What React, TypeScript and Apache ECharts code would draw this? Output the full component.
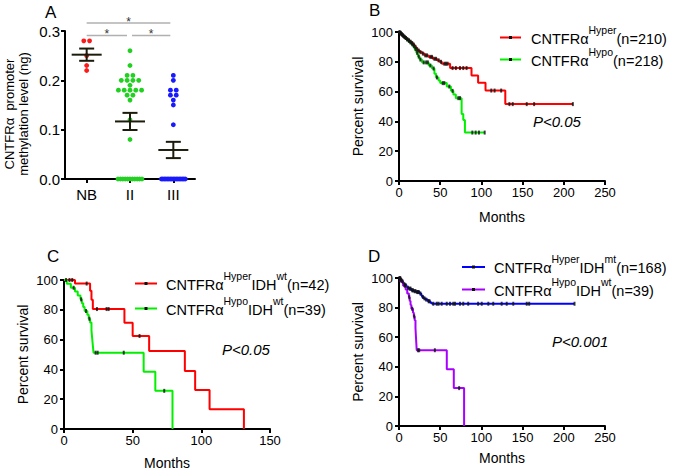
import React, { useEffect, useRef } from 'react';
import * as echarts from 'echarts';

const FONT = '"Liberation Sans", Arial, Helvetica, sans-serif';

// ---------- Panel A data ----------
const groupLabels = ['NB', 'II', 'III'];
const nbLevels = [0.28, 0.28, 0.25, 0.23, 0.22];
const gradeIILevels = [
  0.26, 0.23, 0.21, 0.21, 0.2, 0.2, 0.2, 0.2, 0.19, 0.18, 0.18, 0.18, 0.18, 0.18,
  0.17, 0.17, 0.16, 0.12, 0.08, 0, 0, 0, 0, 0, 0, 0, 0, 0, 0, 0,
];
const gradeIIILevels = [
  0.21, 0.2, 0.18, 0.18, 0.17, 0.17, 0.16, 0.15, 0.11, 0, 0, 0, 0, 0, 0, 0, 0, 0, 0, 0,
  0, 0, 0, 0, 0, 0,
];
const groupColors = ['#ff1a1a', '#22d022', '#1a1aff'];
const comparisonPairs = [[0, 2], [0, 1], [1, 2]];
const comparisonLabels = ['*', '*', '*'];
const comparisonHeights = [0.316, 0.291, 0.291];
const panelATitle = 'CNTFRα  promoter\nmethylation level (ng)';

// ---------- Panel B data ----------
const bHyperSteps = [
  [0, 100], [1, 99.5], [2, 99], [3, 98.5], [4, 98], [5, 97.3], [6, 96.6], [8, 96], [9, 95.2],
  [11, 94.5], [13, 93.5], [15, 92.6], [17, 91.5], [19, 90], [21, 88.5], [23, 87.5], [25, 86.5],
  [28, 85.5], [31, 84.3], [36, 83.3], [41, 82], [46, 81], [49, 80], [52, 78.7], [62, 75.8],
  [88, 70.8], [96, 66], [105, 60.7], [129, 51.6], [211, 51.6],
];
const bHyperCensored = [
  1.5, 2.5, 3.5, 4.5, 5.5, 7, 8.5, 10, 12, 14, 16, 18, 20, 22, 24, 26, 29, 32, 34, 38, 40, 43,
  45, 48, 51, 55, 57, 59, 65, 69, 74, 78, 82, 112, 116, 124, 134, 138, 155, 164, 211,
];
const bHypoSteps = [
  [0, 100], [1, 99.5], [2, 99], [3, 98.3], [4, 97.6], [6, 96.8], [7, 96], [9, 95], [11, 94],
  [13, 93], [15, 91.8], [17, 90.5], [19, 88.5], [21, 86], [23, 83.5], [25, 81.5], [28, 79.6],
  [36, 77.5], [40, 75.5], [43, 72], [45, 69.5], [48, 67.5], [50, 65.7], [58, 63.4], [63, 60.5],
  [66, 58], [69, 55.6], [76, 45], [78, 41], [80, 32.5], [104, 32.5],
];
const bHypoCensored = [
  0.5, 1.5, 2.5, 3.5, 5, 6.5, 8, 10, 12, 14, 16, 18, 20, 22, 24, 26, 30, 33, 35, 38, 42, 46,
  53, 55, 61, 65, 72, 74, 89, 93, 97, 104,
];

// ---------- Panel C data ----------
const cHyperWtSteps = [
  [0, 100], [8, 97.6], [19, 92.8], [20, 86.8], [21, 80.5], [44, 71.3], [50, 62.4], [62, 52.3],
  [88, 39], [95.5, 26.2], [106, 13.2], [131, 0],
];
const cHyperWtCensored = [4, 6, 16.5, 24, 31, 32.5, 55];
const hypoWtSteps = [
  [0, 100], [2, 97.4], [5, 94.8], [8, 92.2], [10, 89.6], [12, 87], [13, 84.4], [14, 81.8],
  [15, 79.2], [17, 76.6], [18, 74], [19, 71.4], [20, 66.2], [20.5, 61], [21, 56], [21.5, 51.2],
  [58, 38.4], [66.5, 25.6], [79, 0],
];
const hypoWtCensored = [1.5, 7, 12.5, 16, 18.5, 23, 24.5, 43.5, 73];

// ---------- Panel D data ----------
const dHyperMtSteps = [
  [0, 100], [1, 99.4], [2, 98.8], [3, 98.2], [4, 97.6], [5, 96.4], [6, 95.8], [7, 95.2], [9, 94],
  [10, 93.4], [12, 92.8], [15, 91.7], [18, 91.1], [21, 90.5], [25, 89.5], [27, 88.3], [28, 87.2],
  [30, 86.2], [32, 85.4], [35, 84.3], [38, 83.3], [40, 82.6], [213, 82.6],
];
const dHyperMtCensored = [
  0.5, 1.5, 2.5, 3.5, 4.5, 6.5, 8, 11, 13, 14, 16, 17, 19, 20, 22, 23, 24, 26, 29, 31, 33, 36,
  37, 41.6, 45.8, 48, 51.8, 57.9, 61.9, 65.9, 68, 74, 78, 84, 96, 100.4, 108.4, 114.4, 124.6,
  130.7, 138.7, 155, 158, 213,
];

const pValueTexts = ['P<0.05', 'P<0.05', 'P<0.001'];
const legendB = ['{m|CNTFRα}{s|Hyper}{m|(n=210)}', '{m|CNTFRα}{s|Hypo}{m|(n=218)}'];
const legendC = ['{m|CNTFRα}{s|Hyper}{m|IDH}{s|wt}{m|(n=42)}', '{m|CNTFRα}{s|Hypo}{m|IDH}{s|wt}{m|(n=39)}'];
const legendD = ['{m|CNTFRα}{s|Hyper}{m|IDH}{s|mt}{m|(n=168)}', '{m|CNTFRα}{s|Hypo}{m|IDH}{s|wt}{m|(n=39)}'];

const RED = '#ff0000';
const GREEN = '#00f000';
const BLUE = '#0000ff';
const PURPLE = '#a800ff';

function survivalAt(steps: number[][], t: number) {
  let s = steps[0][1];
  for (const [tt, v] of steps) {
    if (tt <= t) s = v;
    else break;
  }
  return s;
}
function censorData(steps: number[][], times: number[]) {
  return times.map((t) => [t, survivalAt(steps, t)]);
}
function swarm(values: number[], cat: number) {
  const counts: Record<string, number> = {};
  values.forEach((v) => (counts[v] = (counts[v] || 0) + 1));
  const seen: Record<string, number> = {};
  return values.map((v) => {
    const n = counts[v];
    const i = seen[v] || 0;
    seen[v] = i + 1;
    const s = n > 1 ? Math.min(5.8, 24 / (n - 1)) : 0;
    return [cat, v, (i - (n - 1) / 2) * s];
  });
}
function meanSem(values: number[]) {
  const n = values.length;
  const m = values.reduce((a, b) => a + b, 0) / n;
  const v = values.reduce((a, b) => a + (b - m) * (b - m), 0) / (n - 1);
  return [m, Math.sqrt(v) / Math.sqrt(n)];
}

const axisBase = (fontSize: number) => ({
  axisLine: { show: true, onZero: false, lineStyle: { color: '#000', width: 2 } },
  axisTick: { show: true, length: 4, lineStyle: { color: '#000', width: 2 } },
  axisLabel: { color: '#000', fontSize, fontFamily: FONT },
  splitLine: { show: false },
  nameTextStyle: { color: '#000', fontSize: 14, fontFamily: FONT },
});

export default function App() {
  const ref = useRef<HTMLDivElement>(null);
  useEffect(() => {
    if (!ref.current) return;
    const chart = echarts.init(ref.current, undefined, { renderer: 'svg' });
    const groups = [nbLevels, gradeIILevels, gradeIIILevels];
    const stats = groups.map((g, i) => {
      const [m, s] = meanSem(g);
      return [i, m, s];
    });

    const dotSeries = groups.map((g, gi) => ({
      type: 'custom',
      xAxisIndex: 0,
      yAxisIndex: 0,
      clip: false,
      encode: { x: 0, y: 1 },
      data: swarm(g, gi),
      renderItem: (params: any, api: any) => {
        const c = api.coord([api.value(0), api.value(1)]);
        return {
          type: 'circle',
          shape: { cx: c[0] + api.value(2), cy: c[1], r: 2.4 },
          style: { fill: groupColors[gi] },
        };
      },
      z: 2,
    }));

    const meanSeries = {
      type: 'custom',
      xAxisIndex: 0,
      yAxisIndex: 0,
      clip: false,
      encode: { x: 0, y: 1 },
      data: stats,
      renderItem: (params: any, api: any) => {
        const c = api.coord([api.value(0), api.value(1)]);
        const top = api.coord([api.value(0), api.value(1) + api.value(2)])[1];
        const bot = api.coord([api.value(0), api.value(1) - api.value(2)])[1];
        const st = { stroke: '#1c1c0c', lineWidth: 2 };
        return {
          type: 'group',
          children: [
            { type: 'line', shape: { x1: c[0] - 15, y1: c[1], x2: c[0] + 15, y2: c[1] }, style: st },
            { type: 'line', shape: { x1: c[0] - 7.5, y1: top, x2: c[0] + 7.5, y2: top }, style: st },
            { type: 'line', shape: { x1: c[0] - 7.5, y1: bot, x2: c[0] + 7.5, y2: bot }, style: st },
            { type: 'line', shape: { x1: c[0], y1: top, x2: c[0], y2: bot }, style: st },
          ],
        };
      },
      z: 3,
    };

    const bracketSeries = {
      type: 'custom',
      xAxisIndex: 0,
      yAxisIndex: 0,
      clip: false,
      encode: { x: 0, y: 2 },
      data: comparisonPairs.map((p, i) => [p[0], p[1], comparisonHeights[i]]),
      renderItem: (params: any, api: any) => {
        const i = params.dataIndex;
        const a = api.coord([api.value(0), api.value(2)]);
        const b = api.coord([api.value(1), api.value(2)]);
        const x1 = a[0] + (api.value(0) === 0 ? 0 : 2);
        const x2 = b[0] - 3;
        return {
          type: 'group',
          children: [
            { type: 'line', shape: { x1, y1: a[1], x2, y2: a[1] }, style: { stroke: '#b0b0b0', lineWidth: 1.5 } },
            {
              type: 'text',
              style: {
                text: comparisonLabels[i],
                x: (x1 + x2) / 2,
                y: a[1] - 1,
                fill: '#333',
                font: `12px ${FONT}`,
                align: 'center',
                verticalAlign: 'middle',
              },
            },
          ],
        };
      },
      z: 1,
    };

    const kmLine = (steps: number[][], color: string, idx: number) => ({
      type: 'line',
      xAxisIndex: idx,
      yAxisIndex: idx,
      step: 'end',
      symbol: 'none',
      data: steps,
      lineStyle: { color, width: 2 },
      itemStyle: { color },
      z: 2,
    });
    const kmCensor = (steps: number[][], times: number[], idx: number) => ({
      type: 'scatter',
      xAxisIndex: idx,
      yAxisIndex: idx,
      symbol: 'rect',
      symbolSize: [2, 4],
      data: censorData(steps, times),
      itemStyle: { color: '#111' },
      z: 3,
    });

    const rich = {
      m: { fontSize: 14.5, fontFamily: FONT, fill: '#000', lineHeight: 22, verticalAlign: 'bottom' },
      s: { fontSize: 10.5, fontFamily: FONT, fill: '#000', lineHeight: 12, verticalAlign: 'top' },
    };
    const legendItem = (x1: number, x2: number, y: number, color: string, tx: number, ty: number, text: string) => [
      { type: 'line', shape: { x1, y1: y, x2, y2: y }, style: { stroke: color, lineWidth: 2 } },
      { type: 'rect', shape: { x: (x1 + x2) / 2 - 1.5, y: y - 1.5, width: 3, height: 3 }, style: { fill: '#111' } },
      { type: 'text', x: tx, y: ty, style: { text, rich, fill: '#000', font: `14.5px ${FONT}`, verticalAlign: 'middle' } },
    ];
    const letter = (t: string, x: number, y: number) => ({
      type: 'text',
      x,
      y,
      style: { text: t, font: `17px ${FONT}`, fill: '#000' },
    });
    const pText = (t: string, x: number, y: number) => ({
      type: 'text',
      x,
      y,
      style: { text: t, font: `italic 15px ${FONT}`, fill: '#000', verticalAlign: 'middle' },
    });

    const kmY = (idx: number) => ({
      type: 'value',
      gridIndex: idx,
      min: 0,
      max: 100,
      interval: 20,
      name: 'Percent survival',
      nameLocation: 'middle',
      nameGap: 34,
      ...axisBase(13),
      axisLabel: { color: '#000', fontSize: 13, fontFamily: FONT, margin: 6 },
    });
    const kmX = (idx: number, max: number, gap: number) => ({
      type: 'value',
      gridIndex: idx,
      min: 0,
      max,
      interval: 50,
      name: 'Months',
      nameLocation: 'middle',
      nameGap: gap,
      ...axisBase(13),
      axisLabel: { color: '#000', fontSize: 13, fontFamily: FONT, margin: 5 },
    });

    chart.setOption({
      animation: false,
      backgroundColor: '#fff',
      grid: [
        { left: 65, top: 31, width: 130, height: 148 },
        { left: 399, top: 32, width: 206, height: 149 },
        { left: 64, top: 280, width: 206, height: 149 },
        { left: 399, top: 278, width: 206, height: 148 },
      ],
      xAxis: [
        {
          type: 'category',
          gridIndex: 0,
          data: groupLabels,
          boundaryGap: true,
          ...axisBase(15),
          axisTick: { show: true, alignWithLabel: true, interval: 0, length: 4, lineStyle: { color: '#000', width: 2 } },
          axisLabel: { color: '#000', fontSize: 15, fontFamily: FONT, margin: 8 },
        },
        kmX(1, 250, 29),
        kmX(2, 150, 27),
        kmX(3, 250, 25),
      ],
      yAxis: [
        {
          type: 'value',
          gridIndex: 0,
          min: 0,
          max: 0.3,
          interval: 0.1,
          ...axisBase(15),
          axisLabel: {
            color: '#000',
            fontSize: 15,
            fontFamily: FONT,
            margin: 5,
            formatter: (v: number) => v.toFixed(1),
          },
        },
        kmY(1),
        kmY(2),
        kmY(3),
      ],
      series: [
        ...dotSeries,
        meanSeries,
        bracketSeries,
        kmLine(bHyperSteps, RED, 1),
        kmLine(bHypoSteps, GREEN, 1),
        kmCensor(bHyperSteps, bHyperCensored, 1),
        kmCensor(bHypoSteps, bHypoCensored, 1),
        kmLine(cHyperWtSteps, RED, 2),
        kmLine(hypoWtSteps, GREEN, 2),
        kmCensor(cHyperWtSteps, cHyperWtCensored, 2),
        kmCensor(hypoWtSteps, hypoWtCensored, 2),
        kmLine(dHyperMtSteps, BLUE, 3),
        kmLine(hypoWtSteps, PURPLE, 3),
        kmCensor(dHyperMtSteps, dHyperMtCensored, 3),
        kmCensor(hypoWtSteps, hypoWtCensored, 3),
      ],
      graphic: [
        {
          type: 'text',
          x: 16.5,
          y: 114,
          rotation: Math.PI / 2,
          style: {
            text: panelATitle,
            font: `13px ${FONT}`,
            lineHeight: 13.5,
            fill: '#000',
            align: 'center',
            verticalAlign: 'middle',
          },
        },
        letter('A', 45, 4),
        letter('B', 369, 2),
        letter('C', 47, 248),
        letter('D', 368, 248),
        ...legendItem(500, 521, 37.5, RED, 531, 35, legendB[0]),
        ...legendItem(500, 521, 59.5, GREEN, 531, 57, legendB[1]),
        ...legendItem(135, 157, 283.5, RED, 166, 281, legendC[0]),
        ...legendItem(135, 157, 308.5, GREEN, 166, 306, legendC[1]),
        ...legendItem(462, 485, 267, BLUE, 494, 264, legendD[0]),
        ...legendItem(462, 485, 289.5, PURPLE, 494, 287, legendD[1]),
        pText(pValueTexts[0], 533, 121),
        pText(pValueTexts[1], 222, 349),
        pText(pValueTexts[2], 552, 341),
      ],
    });
    return () => chart.dispose();
  }, []);
  return (
    <div
      ref={ref}
      style={{ position: 'fixed', left: 0, top: 0, width: 675, height: 473, background: '#fff' }}
    />
  );
}
